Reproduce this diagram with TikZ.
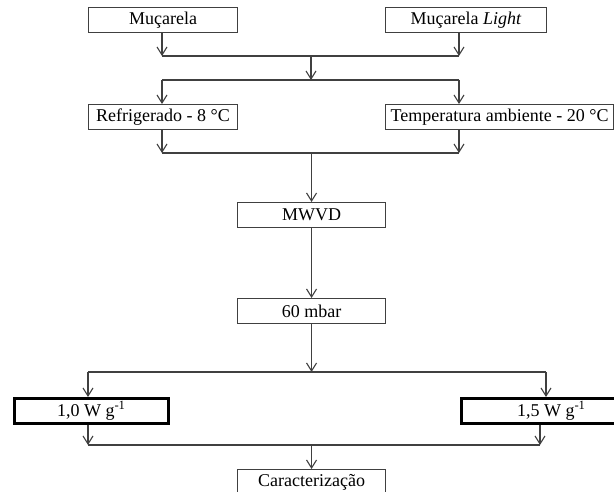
\documentclass[tikz,border=0pt]{standalone}
\usepackage{fontspec}
\setmainfont{Liberation Serif}
\usetikzlibrary{arrows.meta}
\definecolor{fluxo}{RGB}{64,64,64}

\begin{document}
\begin{tikzpicture}[
  x=1pt,y=-1pt,
  every node/.style={font=\fontsize{18}{20}\selectfont},
  etapa/.style={rectangle,draw=fluxo,line width=1.1pt,anchor=north west,
    minimum height=25pt,inner sep=0pt},
  potencia/.style={etapa,draw=black,line width=2.6pt},
  linha/.style={draw=fluxo,line width=1.1pt},
  seta/.style={linha,-{Straight Barb[length=8pt,width=10pt]}}
]
\useasboundingbox (0,0) rectangle (614,492);
\clip (0,0) rectangle (614,492);
\node[etapa,minimum width=149pt] (muc) at (88,7) {Muçarela};
\node[etapa,minimum width=161pt] (mucl) at (385,7) {Muçarela \textit{Light}};
\node[etapa,minimum width=149pt] (refr) at (88,104) {Refrigerado - 8 °C};
\node[etapa,minimum width=228pt] (amb) at (385,104) {Temperatura ambiente - 20 °C};
\node[etapa,minimum width=148pt] (mwvd) at (237,202) {MWVD};
\node[etapa,minimum width=148pt] (vacuo) at (237,298) {60 mbar};
\node[potencia,minimum width=154pt] (p10) at (13,397) {1,0 W g\textsuperscript{-1}};
\node[potencia,minimum width=180pt] (p15) at (460,397) {1,5 W g\textsuperscript{-1}};
\node[etapa,minimum width=148pt] (carac) at (237,469) {Caracterização};
% pontos de juncao
\coordinate (a1) at (162,56); \coordinate (b1) at (459,56); \coordinate (c1) at (311,56);
\coordinate (a2) at (162,80); \coordinate (b2) at (459,80); \coordinate (c2) at (311,80);
\coordinate (a3) at (162,153); \coordinate (b3) at (459,153);
\coordinate (a4) at (88,372); \coordinate (b4) at (546,372);
\coordinate (a5) at (88,445); \coordinate (b5) at (540,445);
\draw[seta] (muc.south -| a1) -- (a1);
\draw[seta] (mucl.south -| b1) -- (b1);
\draw[linha] (a1) -- (b1);
\draw[seta] (c1) -- (c2);
\draw[linha] (a2) -- (b2);
\draw[seta] (a2) -- (refr.north -| a2);
\draw[seta] (b2) -- (amb.north -| b2);
\draw[seta] (refr.south -| a3) -- (a3);
\draw[seta] (amb.south -| b3) -- (b3);
\draw[linha] (a3) -- (b3);
\draw[seta] (mwvd.north |- a3) -- (mwvd.north);
\draw[seta] (mwvd.south) -- (vacuo.north);
\draw[seta] (vacuo.south) -- (vacuo.south |- a4);
\draw[linha] (a4) -- (b4);
\draw[seta] (a4) -- (p10.north -| a4);
\draw[seta] (b4) -- (p15.north -| b4);
\draw[seta] (p10.south -| a5) -- (a5);
\draw[seta] (p15.south -| b5) -- (b5);
\draw[linha] (a5) -- (b5);
\draw[seta] (carac.north |- a5) -- (carac.north);
\end{tikzpicture}
\end{document}
